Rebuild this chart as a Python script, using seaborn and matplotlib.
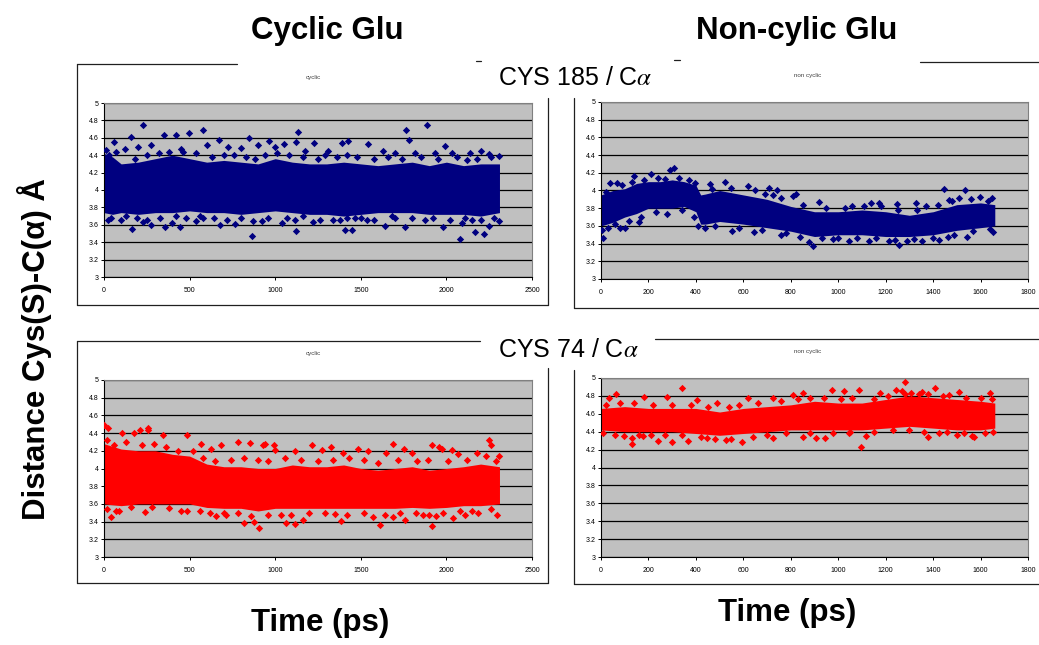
import numpy as np
import matplotlib
matplotlib.use("Agg")
import matplotlib.pyplot as plt
import seaborn as sns

sns.set_style("white")
plt.rcParams['font.family'] = ['Liberation Sans', 'DejaVu Sans']
plt.rcParams['mathtext.fontset'] = 'stix'
plt.rcParams['text.color'] = 'black'
plt.rcParams['xtick.color'] = 'black'
plt.rcParams['ytick.color'] = 'black'

W, H = 1039, 645

# --- data ---
# dense core of each cloud: time nodes (ps) with lower / upper edge (A)
tl_t = [0, 50, 100, 200, 300, 400, 500, 600, 700, 800, 900, 1000, 1100, 1200,
        1300, 1400, 1500, 1600, 1700, 1800, 1900, 2000, 2100, 2200, 2310]
tl_lo = [3.74, 3.72, 3.74, 3.72, 3.74, 3.74, 3.76, 3.74, 3.74, 3.72, 3.74, 3.76, 3.74,
         3.72, 3.72, 3.70, 3.72, 3.74, 3.74, 3.74, 3.72, 3.72, 3.72, 3.70, 3.74]
tl_hi = [4.42, 4.38, 4.30, 4.32, 4.36, 4.40, 4.36, 4.32, 4.34, 4.32, 4.30, 4.36, 4.32,
         4.30, 4.30, 4.32, 4.30, 4.28, 4.30, 4.32, 4.28, 4.32, 4.28, 4.30, 4.30]
# scattered points outside the core
tl_pt_t = [228, 1886, 1765, 579, 1135, 156, 351, 423, 497, 57, 848, 673, 998, 1051, 1123,
           1227, 1388, 1424, 1544, 1784, 1993, 1934, 2032, 2203, 2246, 121, 199, 277, 599,
           725, 901, 965, 1174, 1310, 1632, 1700, 1817, 2139, 2305, 14, 452, 803,
           2081, 862, 2217, 2168, 1119, 164, 443, 355, 1408, 1447, 1759, 273, 1642, 1983,
           2309, 23, 228, 400, 536, 677, 764, 920, 1037, 1223, 1340, 1535, 1876, 2090,
           2246, 2149, 101, 579, 1115, 1466, 1700,
           30, 70, 180, 250, 320, 380, 460, 540, 630, 700, 760, 830, 880, 940, 1010, 1080,
           1160, 1250, 1290, 1360, 1420, 1480, 1580, 1660, 1740, 1850, 1950, 2060, 2120,
           2180, 2260,
           40, 130, 190, 250, 330, 420, 480, 560, 640, 720, 800, 870, 960, 1070, 1160, 1260,
           1380, 1420, 1500, 1580, 1680, 1800, 1920, 2020, 2110, 2200, 2280]
tl_pt_y = [4.75, 4.75, 4.69, 4.69, 4.67, 4.61, 4.63, 4.63, 4.65, 4.55, 4.60, 4.58, 4.49, 4.53, 4.55,
           4.54, 4.54, 4.56, 4.53, 4.57, 4.51, 4.43, 4.43, 4.45, 4.41, 4.47, 4.50, 4.52, 4.52,
           4.50, 4.52, 4.56, 4.45, 4.45, 4.45, 4.42, 4.43, 4.43, 4.39, 4.46, 4.47, 4.48,
           3.44, 3.47, 3.49, 3.52, 3.53, 3.55, 3.57, 3.57, 3.54, 3.54, 3.58, 3.60, 3.59, 3.58,
           3.64, 3.66, 3.63, 3.62, 3.64, 3.60, 3.61, 3.64, 3.62, 3.63, 3.65, 3.66, 3.65, 3.62,
           3.59, 3.65, 3.66, 3.68, 3.66, 3.68, 3.68,
           4.40, 4.44, 4.36, 4.40, 4.42, 4.44, 4.44, 4.42, 4.38, 4.40, 4.40, 4.38, 4.36, 4.40,
           4.42, 4.40, 4.38, 4.36, 4.40, 4.38, 4.40, 4.38, 4.36, 4.38, 4.36, 4.38, 4.36, 4.38,
           4.34, 4.36, 4.38,
           3.68, 3.70, 3.68, 3.66, 3.68, 3.70, 3.68, 3.70, 3.68, 3.66, 3.68, 3.64, 3.68, 3.68,
           3.70, 3.66, 3.66, 3.68, 3.68, 3.66, 3.70, 3.68, 3.68, 3.66, 3.68, 3.66, 3.68]

tr_t = [0, 50, 100, 150, 200, 250, 300, 350, 400, 420, 440, 500, 600, 700, 800, 900,
        1000, 1100, 1200, 1300, 1400, 1500, 1600, 1660]
tr_lo = [3.60, 3.64, 3.70, 3.74, 3.80, 3.80, 3.80, 3.82, 3.76, 3.62, 3.62, 3.65, 3.62, 3.58,
         3.54, 3.48, 3.50, 3.50, 3.48, 3.48, 3.50, 3.55, 3.58, 3.60]
tr_hi = [3.95, 4.00, 4.02, 4.08, 4.10, 4.10, 4.12, 4.10, 4.06, 3.95, 3.96, 4.00, 3.95, 3.90,
         3.82, 3.76, 3.76, 3.78, 3.76, 3.72, 3.76, 3.84, 3.86, 3.84]
tr_pt_t = [306, 292, 210, 140, 1448, 1536, 740, 820, 892, 1256, 8, 4, 161, 81, 102, 438,
           552, 647, 759, 1654, 1544, 1461, 1046, 1130, 1214, 1291, 1354, 1424, 878, 976,
           522, 459, 620, 708, 39, 67, 808, 920, 1172, 1137, 1249, 1326, 1508, 1599, 1648,
           1466, 1368, 724, 1060,
           20, 90, 130, 180, 240, 270, 330, 370, 395, 470, 550, 650, 690, 760, 850, 950,
           1030, 1110, 1180, 1250, 1330, 1420, 1480, 1560, 1630,
           30, 60, 120, 170, 230, 280, 340, 390, 410, 480, 580, 680, 780, 840, 930, 1000,
           1080, 1160, 1240, 1320, 1400, 1490, 1570, 1640]
tr_pt_y = [4.25, 4.23, 4.19, 4.16, 4.02, 4.00, 4.00, 3.96, 3.37, 3.38, 3.46, 3.55, 3.64, 3.58,
           3.58, 3.58, 3.54, 3.53, 3.50, 3.53, 3.47, 3.47, 3.43, 3.43, 3.43, 3.43, 3.43, 3.44,
           3.42, 3.45, 4.10, 4.07, 4.05, 4.03, 4.09, 4.09, 3.94, 3.87, 3.86, 3.86, 3.85, 3.86,
           3.91, 3.93, 3.91, 3.89, 3.82, 3.95, 3.82,
           3.98, 4.06, 4.10, 4.12, 4.14, 4.13, 4.14, 4.12, 4.08, 4.02, 4.03, 4.00, 3.96, 3.92,
           3.84, 3.80, 3.80, 3.82, 3.82, 3.78, 3.78, 3.84, 3.88, 3.90, 3.88,
           3.58, 3.62, 3.66, 3.70, 3.76, 3.74, 3.78, 3.70, 3.60, 3.60, 3.58, 3.55, 3.52, 3.48,
           3.46, 3.46, 3.46, 3.46, 3.44, 3.45, 3.46, 3.50, 3.54, 3.56]

bl_t = [0, 100, 200, 300, 400, 500, 600, 700, 800, 900, 1000, 1100, 1200, 1300, 1400,
        1500, 1600, 1700, 1800, 1900, 2000, 2100, 2200, 2310]
bl_lo = [3.60, 3.58, 3.60, 3.60, 3.60, 3.60, 3.56, 3.55, 3.55, 3.52, 3.55, 3.55, 3.55, 3.55,
         3.55, 3.55, 3.55, 3.55, 3.56, 3.55, 3.56, 3.58, 3.58, 3.60]
bl_hi = [4.28, 4.22, 4.20, 4.20, 4.16, 4.14, 4.05, 4.02, 4.02, 4.00, 4.00, 4.04, 4.02, 4.02,
         4.04, 4.00, 3.98, 4.00, 4.02, 3.98, 4.00, 4.02, 4.05, 4.02]
bl_pt_t = [0, 25, 258, 258, 176, 211, 104, 342, 482, 781, 855, 941, 992, 1000, 1215, 1273,
           1689, 1752, 1797, 2246, 2262, 1914, 1959, 1973, 2308, 1650, 1543, 1396, 1113, 928,
           684, 566, 625, 2070, 2178, 1484, 1328, 2031,
           908, 820, 1064, 1113, 1611, 1914, 879, 1162, 1387, 1572, 1758, 2041, 2295, 1940,
           39, 240, 88, 482, 654, 713, 1689, 1865, 2109, 2187, 1348, 1035,
           20, 60, 130, 220, 290, 360, 430, 520, 580, 650, 740, 820, 900, 960, 1060, 1150,
           1250, 1340, 1430, 1520, 1600, 1720, 1830, 1890, 2010, 2120, 2230, 2290,
           15, 70, 160, 280, 380, 450, 560, 620, 700, 780, 860, 960, 1090, 1200, 1290, 1420,
           1520, 1640, 1730, 1820, 1900, 1980, 2080, 2150, 2260]
bl_pt_y = [4.49, 4.46, 4.46, 4.43, 4.40, 4.43, 4.40, 4.38, 4.38, 4.30, 4.29, 4.28, 4.26, 4.21,
           4.26, 4.21, 4.28, 4.22, 4.18, 4.32, 4.26, 4.26, 4.24, 4.22, 4.14, 4.18, 4.20, 4.18,
           4.20, 4.27, 4.26, 4.28, 4.22, 4.16, 4.18, 4.22, 4.24, 4.21,
           3.33, 3.38, 3.38, 3.37, 3.36, 3.35, 3.40, 3.42, 3.41, 3.45, 3.42, 3.44, 3.47, 3.46,
           3.45, 3.51, 3.52, 3.52, 3.46, 3.48, 3.45, 3.48, 3.48, 3.50, 3.49, 3.47,
           4.32, 4.26, 4.30, 4.26, 4.28, 4.24, 4.20, 4.20, 4.12, 4.08, 4.10, 4.12, 4.10, 4.08,
           4.12, 4.10, 4.08, 4.10, 4.12, 4.10, 4.06, 4.10, 4.08, 4.10, 4.08, 4.10, 4.14, 4.08,
           3.54, 3.52, 3.56, 3.56, 3.55, 3.52, 3.52, 3.50, 3.50, 3.50, 3.46, 3.48, 3.48, 3.50,
           3.50, 3.48, 3.50, 3.48, 3.50, 3.50, 3.48, 3.50, 3.52, 3.52, 3.54]

br_t = [0, 100, 200, 300, 400, 500, 600, 700, 800, 900, 1000, 1100, 1200, 1300, 1400,
        1500, 1600, 1660]
br_lo = [4.42, 4.40, 4.40, 4.40, 4.38, 4.36, 4.38, 4.40, 4.42, 4.42, 4.42, 4.42, 4.44, 4.46,
         4.44, 4.42, 4.42, 4.44]
br_hi = [4.66, 4.68, 4.66, 4.66, 4.66, 4.62, 4.66, 4.68, 4.70, 4.74, 4.72, 4.72, 4.76, 4.80,
         4.78, 4.76, 4.74, 4.72]
br_pt_t = [1281, 343, 973, 1025, 1088, 1242, 1267, 1406, 1640, 1508, 64, 182, 277, 620, 724,
           808, 853, 1175, 1305, 1354, 1466, 32, 403, 487,
           1095, 130, 130, 298, 365, 596, 242, 95, 850, 945, 906, 1379, 1573, 1654, 1116,
           1501, 1424, 724, 528, 445, 179, 1046, 1564,
           20, 80, 140, 220, 300, 380, 450, 540, 580, 660, 760, 830, 880, 940, 1010, 1060,
           1150, 1210, 1280, 1340, 1380, 1440, 1540, 1600, 1650,
           10, 60, 160, 210, 270, 340, 420, 480, 550, 640, 700, 780, 880, 980, 1050, 1150,
           1230, 1300, 1360, 1460, 1530, 1620]
br_pt_y = [4.96, 4.89, 4.87, 4.86, 4.87, 4.87, 4.86, 4.89, 4.83, 4.84, 4.82, 4.79, 4.79, 4.78,
           4.78, 4.81, 4.83, 4.83, 4.83, 4.84, 4.81, 4.78, 4.75, 4.72,
           4.23, 4.26, 4.33, 4.29, 4.30, 4.29, 4.30, 4.35, 4.34, 4.33, 4.33, 4.34, 4.34, 4.40,
           4.35, 4.36, 4.38, 4.33, 4.31, 4.33, 4.35, 4.38, 4.35,
           4.70, 4.72, 4.72, 4.70, 4.70, 4.70, 4.68, 4.68, 4.70, 4.72, 4.74, 4.76, 4.78, 4.78,
           4.76, 4.78, 4.76, 4.80, 4.82, 4.82, 4.82, 4.80, 4.78, 4.78, 4.76,
           4.38, 4.36, 4.36, 4.36, 4.36, 4.36, 4.34, 4.32, 4.32, 4.34, 4.36, 4.38, 4.38, 4.38,
           4.40, 4.40, 4.42, 4.42, 4.40, 4.40, 4.38, 4.38]

NAVY = '#000080'
RED = '#FF0000'

fig = plt.figure(figsize=(W / 100, H / 100), dpi=100)

# overlay in pixel coords for the chart frames and the big labels
ov = fig.add_axes([0, 0, 1, 1])
ov.set_xlim(0, W)
ov.set_ylim(H, 0)
ov.axis('off')

frame = dict(color='#202020', lw=0.9)
# top-left box
ov.plot([77, 237], [64, 64], **frame)
ov.plot([77, 77], [64, 305], **frame)
ov.plot([77, 548], [305, 305], **frame)
ov.plot([548, 548], [98, 305], **frame)
ov.plot([476, 481], [61, 61], **frame)
ov.plot([674, 680], [60, 60], **frame)
# top-right box
ov.plot([920, W], [62, 62], **frame)
ov.plot([574, 574], [98, 308], **frame)
ov.plot([574, W], [308, 308], **frame)
# bottom-left box
ov.plot([77, 480], [341, 341], **frame)
ov.plot([77, 77], [341, 583], **frame)
ov.plot([77, 548], [583, 583], **frame)
ov.plot([548, 548], [368, 583], **frame)
# bottom-right box
ov.plot([655, W], [339, 339], **frame)
ov.plot([574, 574], [370, 584], **frame)
ov.plot([574, W], [584, 584], **frame)

big = dict(fontsize=22.5, fontweight='bold', ha='center', va='center', color='black')
ov.text(327, 31, 'Cyclic Glu', **big)
ov.text(797, 31, 'Non-cylic Glu', **big)
ov.text(320, 623, 'Time (ps)', **big)
ov.text(787, 613, 'Time (ps)', **big)
ov.text(35, 349, 'Distance Cys(S)-C(α) Å', rotation=90, **big)
ov.text(575, 78, r'CYS 185 / C$\alpha$', fontsize=18, ha='center', va='center', color='black')
ov.text(568, 350, r'CYS 74 / C$\alpha$', fontsize=18, ha='center', va='center', color='black')


def panel(box, t, lo, hi, pt_t, pt_y, color, xmax, xstep, sub, sub_xy):
    x0, y0, x1, y1 = box
    ax = fig.add_axes([x0 / W, 1 - y1 / H, (x1 - x0) / W, (y1 - y0) / H])
    ax.set_facecolor('#C0C0C0')
    ax.fill_between(t, lo, hi, color=color, lw=0, zorder=2)
    sns.scatterplot(x=pt_t, y=pt_y, ax=ax, marker='D', s=14, color=color,
                    linewidth=0, zorder=3, legend=False)
    ax.set_xlim(0, xmax)
    ax.set_ylim(3, 5)
    ax.set_xticks(np.arange(0, xmax + 1, xstep))
    yt = np.round(np.arange(3, 5.001, 0.2), 1)
    ax.set_yticks(yt)
    ax.set_yticklabels([f'{v:g}' for v in yt])
    ax.yaxis.grid(True, color='black', lw=0.9)
    ax.xaxis.grid(False)
    ax.set_axisbelow(True)
    for s in ['top', 'right']:
        ax.spines[s].set_color('#808080')
        ax.spines[s].set_linewidth(0.8)
    for s in ['left', 'bottom']:
        ax.spines[s].set_color('black')
        ax.spines[s].set_linewidth(0.8)
    ax.tick_params(axis='both', direction='out', length=2.5, width=0.7,
                   labelsize=5, colors='black', left=True, bottom=True)
    ax.tick_params(axis='y', pad=1.5)
    ax.tick_params(axis='x', pad=4.5)
    ax.set_xlabel('')
    ax.set_ylabel('')
    ov.text(sub_xy[0], sub_xy[1], sub, fontsize=4.5, color='#404040',
            ha='center', va='center')
    return ax


panel((104, 103, 532, 277), tl_t, tl_lo, tl_hi, tl_pt_t, tl_pt_y, NAVY, 2500, 500,
      'cyclic', (313, 77))
panel((601, 102, 1028, 279), tr_t, tr_lo, tr_hi, tr_pt_t, tr_pt_y, NAVY, 1800, 200,
      'non cyclic', (808, 76))
panel((104, 380, 532, 557), bl_t, bl_lo, bl_hi, bl_pt_t, bl_pt_y, RED, 2500, 500,
      'cyclic', (313, 354))
panel((601, 378, 1028, 557), br_t, br_lo, br_hi, br_pt_t, br_pt_y, RED, 1800, 200,
      'non cyclic', (808, 352))

fig.savefig('out.png', dpi=100)
